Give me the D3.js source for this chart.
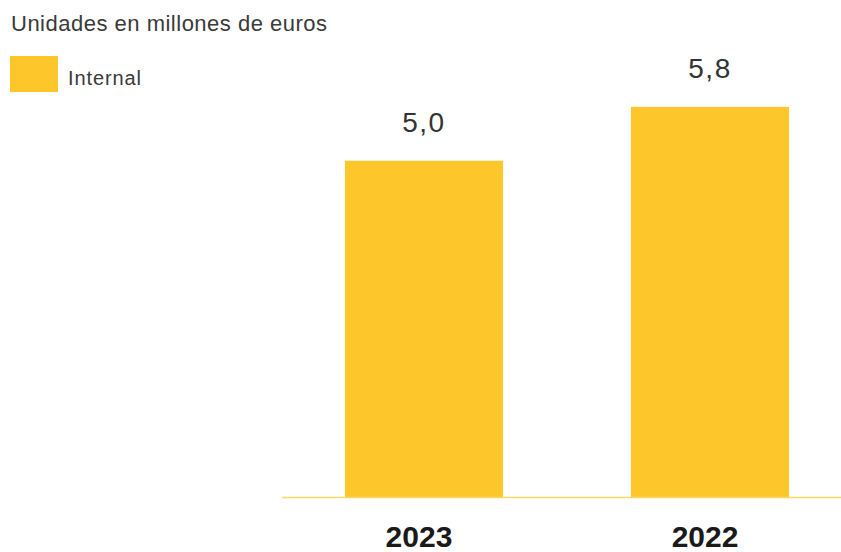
<!DOCTYPE html>
<html>
<head>
<meta charset="utf-8">
<script src="https://cdn.jsdelivr.net/npm/d3@7"></script>
<style>
  body { margin: 0; background: #fff; }
  text { font-family: "Liberation Sans", Arial, sans-serif; }
</style>
</head>
<body>
<svg id="chart"></svg>
<script>
// data
const years = ["2023", "2022"];
const values = [5.0, 5.8];
const valueLabels = ["5,0", "5,8"];
const seriesName = "Internal";
const unitTitle = "Unidades en millones de euros";

const W = 841, H = 552;
const barColor = "#fdc62b";

const svg = d3.select("#chart")
    .attr("width", W)
    .attr("height", H);

// scales
const x = d3.scaleBand()
    .domain(years)
    .range([282, 852])
    .paddingInner(0.447)
    .paddingOuter(0.22);

const y = d3.scaleLinear()
    .domain([0, 6])
    .range([497.5, 497.5 - 6 * 67.35]);

// title
svg.append("text")
    .attr("x", 11)
    .attr("y", 31)
    .attr("font-size", "22px")
    .attr("letter-spacing", "0.5px")
    .attr("fill", "#3a3a3a")
    .text(unitTitle);

// legend
svg.append("rect")
    .attr("x", 10)
    .attr("y", 56)
    .attr("width", 48)
    .attr("height", 36)
    .attr("fill", barColor);

svg.append("text")
    .attr("x", 68)
    .attr("y", 85)
    .attr("font-size", "20px")
    .attr("letter-spacing", "0.9px")
    .attr("fill", "#3a3a3a")
    .text(seriesName);

// bars
const data = years.map((yr, i) => ({ year: yr, value: values[i], label: valueLabels[i] }));

svg.selectAll("rect.bar")
    .data(data)
    .enter()
    .append("rect")
    .attr("class", "bar")
    .attr("x", d => x(d.year))
    .attr("y", d => y(d.value))
    .attr("width", x.bandwidth())
    .attr("height", d => y(0) - y(d.value))
    .attr("fill", barColor);

// value labels
svg.selectAll("text.val")
    .data(data)
    .enter()
    .append("text")
    .attr("class", "val")
    .attr("x", d => x(d.year) + x.bandwidth() / 2)
    .attr("y", d => y(d.value) - 29)
    .attr("text-anchor", "middle")
    .attr("font-size", "28px")
    .attr("letter-spacing", "1.5px")
    .attr("fill", "#333")
    .text(d => d.label);

// baseline
svg.append("line")
    .attr("x1", 282)
    .attr("x2", W)
    .attr("y1", y(0))
    .attr("y2", y(0))
    .attr("stroke", "#fed765")
    .attr("stroke-width", 1.5);

// x axis labels
svg.selectAll("text.year")
    .data(years)
    .enter()
    .append("text")
    .attr("class", "year")
    .attr("x", d => x(d) + x.bandwidth() / 2 - 5)
    .attr("y", 546.5)
    .attr("text-anchor", "middle")
    .attr("font-size", "30px")
    .attr("font-weight", "bold")
    .attr("fill", "#1a1a1a")
    .text(d => d);
</script>
</body>
</html>
